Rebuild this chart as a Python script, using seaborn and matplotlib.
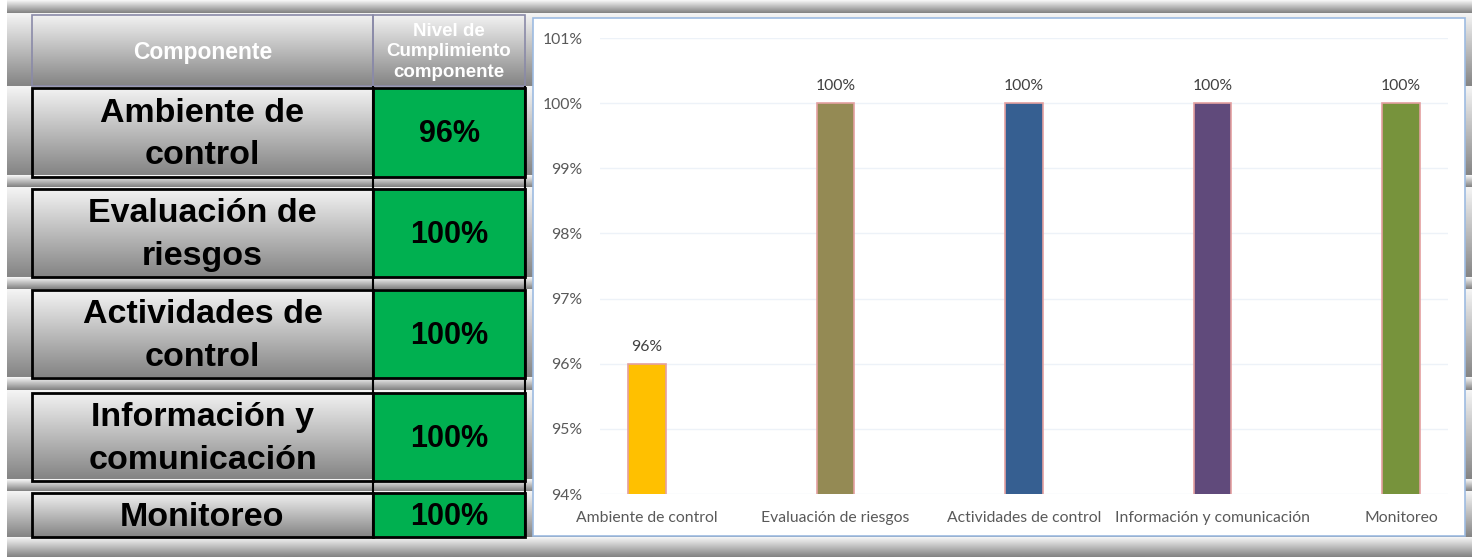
import numpy as np
import pandas as pd
import seaborn as sns
import matplotlib.pyplot as plt
from matplotlib.patches import Rectangle
from matplotlib.ticker import PercentFormatter

# data
componentes = ['Ambiente de control', 'Evaluación de riesgos', 'Actividades de control',
               'Información y comunicación', 'Monitoreo']
etiquetas_tabla = ['Ambiente de\ncontrol', 'Evaluación de\nriesgos', 'Actividades de\ncontrol',
                   'Información y\ncomunicación', 'Monitoreo']
cumplimiento = [0.96, 1.00, 1.00, 1.00, 1.00]
colores = ['#ffc000', '#948a54', '#365f91', '#604a7b', '#77933c']

df = pd.DataFrame({'componente': componentes, 'nivel': cumplimiento})

W, H = 1472, 557
fig = plt.figure(figsize=(W / 100, H / 100), dpi=100)

# background: spreadsheet rows with grey gradient fill
bg = fig.add_axes([0, 0, 1, 1])
bg.set_xlim(0, W)
bg.set_ylim(H, 0)
bg.axis('off')
bands = [0, 13, 86, 175, 187, 277, 289, 377, 390, 479, 491, 537, 557]
col = np.zeros(H)
for a, b in zip(bands[:-1], bands[1:]):
    col[a:b] = np.linspace(0.96, 0.52, b - a)
img = np.repeat(col[:, None], 2, axis=1)
bg.imshow(img, cmap='gray', vmin=0, vmax=1, extent=(7, W, H, 0), aspect='auto',
          interpolation='bilinear')

# table
x0, x1, x2 = 32, 373, 525
filas = [(88, 177), (189, 277), (290, 378), (393, 481), (493, 537)]
bg.add_patch(Rectangle((x0, 15), x1 - x0, 71, fill=False, ec='#8a8aa8', lw=1.2))
bg.add_patch(Rectangle((x1, 15), x2 - x1, 71, fill=False, ec='#8a8aa8', lw=1.2))
bg.text((x0 + x1) / 2, 53, 'Componente', color='white', fontsize=16.5, fontweight='bold',
        family='Liberation Sans', ha='center', va='center')
bg.text((x1 + x2) / 2, 52, 'Nivel de\nCumplimiento\ncomponente', color='white', fontsize=13.5,
        fontweight='bold', family='Liberation Sans', ha='center', va='center', linespacing=1.28)
bg.vlines([x1, x2], 86, 537, color='black', lw=1.5)
for (ya, yb), lab, v in zip(filas, etiquetas_tabla, cumplimiento):
    bg.add_patch(Rectangle((x0, ya), x1 - x0, yb - ya, fill=False, ec='black', lw=2))
    bg.add_patch(Rectangle((x1, ya), x2 - x1, yb - ya, fc='#00b050', ec='black', lw=2))
    bg.text((x0 + x1) / 2, (ya + yb) / 2 + 2, lab, fontsize=24.5, fontweight='bold',
            family='Liberation Sans', ha='center', va='center', linespacing=1.5)
    bg.text((x1 + x2) / 2, (ya + yb) / 2 + 2, f'{v:.0%}', fontsize=22, fontweight='bold',
            family='Liberation Sans', ha='center', va='center')

# chart frame
bg.add_patch(Rectangle((533, 18), 932, 518, fc='white', ec='#9dbbe1', lw=1.2))

# bar chart
ax = fig.add_axes([600 / W, (H - 494) / H, 848 / W, (494 - 38) / H])
ax.set_facecolor('none')
sns.barplot(data=df, x='componente', y='nivel', hue='componente', palette=colores,
            legend=False, width=0.2, saturation=1, edgecolor='#e4a0a0', linewidth=1.2, ax=ax)
ax.set_ylim(0.94, 1.01)
ax.set_xlim(-0.25, 4.25)
ax.set_yticks(np.arange(0.94, 1.0101, 0.01))
ax.yaxis.set_major_formatter(PercentFormatter(1, decimals=0))
ax.grid(axis='y', color='#edf2f8', lw=1)
ax.set_axisbelow(True)
for s in ax.spines.values():
    s.set_visible(False)
ax.tick_params(length=0, labelcolor='#595959', labelsize=11.3)
ax.tick_params(axis='y', pad=12.5)
ax.tick_params(axis='x', pad=12.5)
for t in ax.get_xticklabels() + ax.get_yticklabels():
    t.set_family('Lato')
ax.set_xlabel('')
ax.set_ylabel('')
for c in ax.containers:
    ax.bar_label(c, labels=[f'{v:.0%}' for v in c.datavalues], padding=7,
                 color='#404040', fontsize=11.3, family='Lato')

fig.savefig('out.png', dpi=100)
